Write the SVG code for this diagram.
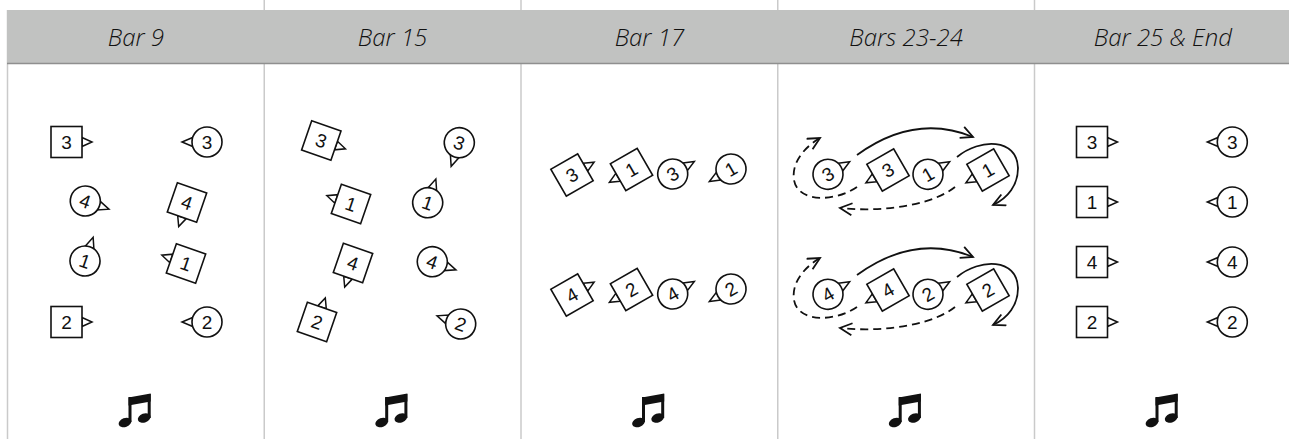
<svg xmlns="http://www.w3.org/2000/svg" xmlns:xlink="http://www.w3.org/1999/xlink" width="1289" height="439" viewBox="0 0 1289 439">
<style>
.hdr{font-family:"Open Sans","Noto Sans",sans-serif;font-style:italic;font-weight:350;font-size:24px;fill:#111;text-anchor:middle}
.num{font-family:"Liberation Sans",Arial,sans-serif;font-size:19px;fill:#111;text-anchor:middle}
.sh{fill:#fff;stroke:#111;stroke-width:1.6}
.tri{fill:#fff;stroke:#111;stroke-width:1.5;stroke-linejoin:miter}
.div{stroke:#cacaca;stroke-width:1.5}
.arr{fill:none;stroke:#111;stroke-width:1.8;marker-end:url(#ah)}
.dash{stroke-dasharray:8 5}
.note{fill:#111}
</style>
<defs>
<marker id="ah" markerUnits="userSpaceOnUse" markerWidth="16" markerHeight="14" refX="13" refY="7" orient="auto" viewBox="0 0 16 14">
<path d="M1,1 L13,7 L1,13" fill="none" stroke="#111" stroke-width="1.8"/>
</marker>
<polygon id="tS" points="15.5,-4.5 25.5,0 15.5,4.5"/>
<polygon id="tC" points="14.3,-4.5 25,0 14.3,4.5"/>
<rect id="bS" x="-15.5" y="-15.5" width="31" height="31"/>
<circle id="bC" r="15"/>
<g id="note">
<ellipse cx="-8.4" cy="12.5" rx="6.6" ry="4.4" transform="rotate(-20 -8.4 12.5)"/>
<rect x="-4.9" y="-13" width="3" height="25"/>
<polygon points="-4.9,-12.5 17.3,-16.5 17.3,-8.5 -4.9,-4.5"/>
<rect x="14.3" y="-16" width="3" height="24"/>
<ellipse cx="10.8" cy="8" rx="6.6" ry="4.4" transform="rotate(-20 10.8 8)"/>
</g>
</defs>
<rect x="0" y="0" width="1289" height="439" fill="#fff"/>

<g id="grid">
<line class="div" x1="7.5" y1="10" x2="7.5" y2="439"/>
<line class="div" x1="264.25" y1="0" x2="264.25" y2="439"/>
<line class="div" x1="521" y1="0" x2="521" y2="439"/>
<line class="div" x1="777.75" y1="0" x2="777.75" y2="439"/>
<line class="div" x1="1034.5" y1="0" x2="1034.5" y2="439"/>
<rect x="7" y="10" width="1282" height="53.5" fill="#c1c2c1"/>
<line x1="7" y1="63.5" x2="1289" y2="63.5" stroke="#8f8f8f" stroke-width="1.5"/>
<text class="hdr" x="135.9" y="45.5">Bar 9</text>
<text class="hdr" x="392.6" y="45.5">Bar 15</text>
<text class="hdr" x="649.4" y="45.5">Bar 17</text>
<text class="hdr" x="906.1" y="45.5">Bars 23-24</text>
<text class="hdr" x="1162.9" y="45.5">Bar 25 &amp; End</text>
</g>

<!-- Bar 9 -->
<g id="b9-sq3" transform="translate(66.5,142)"><use href="#tS" class="tri"/><use href="#bS" class="sh"/><text class="num" y="6.8">3</text></g>
<g id="b9-ci3" transform="translate(207,142)"><use href="#tC" class="tri" transform="rotate(180)"/><use href="#bC" class="sh"/><text class="num" y="6.8">3</text></g>
<g id="b9-ci4" transform="translate(85.3,201) rotate(19)"><use href="#tC" class="tri"/><use href="#bC" class="sh"/><text class="num" y="6.8">4</text></g>
<g id="b9-sq4" transform="translate(187,202.5) rotate(19)"><use href="#tS" class="tri" transform="rotate(90)"/><use href="#bS" class="sh"/><text class="num" y="6.8">4</text></g>
<g id="b9-ci1" transform="translate(85,261) rotate(19)"><use href="#tC" class="tri" transform="rotate(-90)"/><use href="#bC" class="sh"/><text class="num" y="6.8">1</text></g>
<g id="b9-sq1" transform="translate(186,263.5) rotate(19)"><use href="#tS" class="tri" transform="rotate(180)"/><use href="#bS" class="sh"/><text class="num" y="6.8">1</text></g>
<g id="b9-sq2" transform="translate(66.5,322)"><use href="#tS" class="tri"/><use href="#bS" class="sh"/><text class="num" y="6.8">2</text></g>
<g id="b9-ci2" transform="translate(207,322)"><use href="#tC" class="tri" transform="rotate(180)"/><use href="#bC" class="sh"/><text class="num" y="6.8">2</text></g>
<g id="b9-note" class="note"><use href="#note" transform="translate(133.4,410)"/></g>

<!-- Bar 15 -->
<g id="b15-sq3" transform="translate(321.3,140.5) rotate(19)"><use href="#tS" class="tri"/><use href="#bS" class="sh"/><text class="num" y="6.8">3</text></g>
<g id="b15-ci3" transform="translate(459.3,142.7) rotate(19)"><use href="#tC" class="tri" transform="rotate(90)"/><use href="#bC" class="sh"/><text class="num" y="6.8">3</text></g>
<g id="b15-sq1" transform="translate(351,204) rotate(19)"><use href="#tS" class="tri" transform="rotate(180)"/><use href="#bS" class="sh"/><text class="num" y="6.8">1</text></g>
<g id="b15-ci1" transform="translate(427.7,202.7) rotate(19)"><use href="#tC" class="tri" transform="rotate(-90)"/><use href="#bC" class="sh"/><text class="num" y="6.8">1</text></g>
<g id="b15-sq4" transform="translate(353,263) rotate(19)"><use href="#tS" class="tri" transform="rotate(90)"/><use href="#bS" class="sh"/><text class="num" y="6.8">4</text></g>
<g id="b15-ci4" transform="translate(432.3,261.7) rotate(19)"><use href="#tC" class="tri"/><use href="#bC" class="sh"/><text class="num" y="6.8">4</text></g>
<g id="b15-sq2" transform="translate(317,322) rotate(19)"><use href="#tS" class="tri" transform="rotate(-90)"/><use href="#bS" class="sh"/><text class="num" y="6.8">2</text></g>
<g id="b15-ci2" transform="translate(460.7,324) rotate(19)"><use href="#tC" class="tri" transform="rotate(180)"/><use href="#bC" class="sh"/><text class="num" y="6.8">2</text></g>
<g id="b15-note" class="note"><use href="#note" transform="translate(390.1,410)"/></g>

<!-- Bar 17 -->
<g id="b17-sq3" transform="translate(572,175) rotate(-30)"><use href="#tS" class="tri"/><use href="#bS" class="sh"/><text class="num" y="6.8">3</text></g>
<g id="b17-sq1" transform="translate(631.5,169.5) rotate(-30)"><use href="#tS" class="tri" transform="rotate(180)"/><use href="#bS" class="sh"/><text class="num" y="6.8">1</text></g>
<g id="b17-ci3" transform="translate(672.7,174) rotate(-30)"><use href="#tC" class="tri"/><use href="#bC" class="sh"/><text class="num" y="6.8">3</text></g>
<g id="b17-ci1" transform="translate(731,169) rotate(-30)"><use href="#tC" class="tri" transform="rotate(180)"/><use href="#bC" class="sh"/><text class="num" y="6.8">1</text></g>
<g id="b17-sq4" transform="translate(572,295) rotate(-30)"><use href="#tS" class="tri"/><use href="#bS" class="sh"/><text class="num" y="6.8">4</text></g>
<g id="b17-sq2" transform="translate(631.5,289.5) rotate(-30)"><use href="#tS" class="tri" transform="rotate(180)"/><use href="#bS" class="sh"/><text class="num" y="6.8">2</text></g>
<g id="b17-ci4" transform="translate(672.7,294) rotate(-30)"><use href="#tC" class="tri"/><use href="#bC" class="sh"/><text class="num" y="6.8">4</text></g>
<g id="b17-ci2" transform="translate(731,289) rotate(-30)"><use href="#tC" class="tri" transform="rotate(180)"/><use href="#bC" class="sh"/><text class="num" y="6.8">2</text></g>
<g id="b17-note" class="note"><use href="#note" transform="translate(646.9,410)"/></g>

<!-- Bars 23-24 -->
<g id="b23-ci3" transform="translate(828,174.3) rotate(-30)"><use href="#tC" class="tri"/><use href="#bC" class="sh"/><text class="num" y="6.8">3</text></g>
<g id="b23-sq3" transform="translate(888,170) rotate(-30)"><use href="#tS" class="tri" transform="rotate(180)"/><use href="#bS" class="sh"/><text class="num" y="6.8">3</text></g>
<g id="b23-ci1" transform="translate(928,174.3) rotate(-30)"><use href="#tC" class="tri"/><use href="#bC" class="sh"/><text class="num" y="6.8">1</text></g>
<g id="b23-sq1" transform="translate(988,170) rotate(-30)"><use href="#tS" class="tri" transform="rotate(180)"/><use href="#bS" class="sh"/><text class="num" y="6.8">1</text></g>
<g id="b23-ci4" transform="translate(828,294.3) rotate(-30)"><use href="#tC" class="tri"/><use href="#bC" class="sh"/><text class="num" y="6.8">4</text></g>
<g id="b23-sq4" transform="translate(888,290) rotate(-30)"><use href="#tS" class="tri" transform="rotate(180)"/><use href="#bS" class="sh"/><text class="num" y="6.8">4</text></g>
<g id="b23-ci2" transform="translate(928,294.3) rotate(-30)"><use href="#tC" class="tri"/><use href="#bC" class="sh"/><text class="num" y="6.8">2</text></g>
<g id="b23-sq2" transform="translate(988,290) rotate(-30)"><use href="#tS" class="tri" transform="rotate(180)"/><use href="#bS" class="sh"/><text class="num" y="6.8">2</text></g>
<g id="b23-note" class="note"><use href="#note" transform="translate(903.6,410)"/></g>

<!-- Bar 25 & End -->
<g id="b25-sq3" transform="translate(1092,142)"><use href="#tS" class="tri"/><use href="#bS" class="sh"/><text class="num" y="6.8">3</text></g>
<g id="b25-ci3" transform="translate(1232.3,142)"><use href="#tC" class="tri" transform="rotate(180)"/><use href="#bC" class="sh"/><text class="num" y="6.8">3</text></g>
<g id="b25-sq1" transform="translate(1092,202)"><use href="#tS" class="tri"/><use href="#bS" class="sh"/><text class="num" y="6.8">1</text></g>
<g id="b25-ci1" transform="translate(1232.3,202)"><use href="#tC" class="tri" transform="rotate(180)"/><use href="#bC" class="sh"/><text class="num" y="6.8">1</text></g>
<g id="b25-sq4" transform="translate(1092,262)"><use href="#tS" class="tri"/><use href="#bS" class="sh"/><text class="num" y="6.8">4</text></g>
<g id="b25-ci4" transform="translate(1232.3,262)"><use href="#tC" class="tri" transform="rotate(180)"/><use href="#bC" class="sh"/><text class="num" y="6.8">4</text></g>
<g id="b25-sq2" transform="translate(1092,322)"><use href="#tS" class="tri"/><use href="#bS" class="sh"/><text class="num" y="6.8">2</text></g>
<g id="b25-ci2" transform="translate(1232.3,322)"><use href="#tC" class="tri" transform="rotate(180)"/><use href="#bC" class="sh"/><text class="num" y="6.8">2</text></g>
<g id="b25-note" class="note"><use href="#note" transform="translate(1160.4,410)"/></g>

<g id="connectors">
<path class="arr" d="M857,155 Q915,113 973,137"/>
<path class="arr" d="M957,157 C980,138 1017,138 1018,168 C1018,185 1008,198 993,205"/>
<path class="arr dash" d="M955,187 C935,203 890,213 840,208"/>
<path class="arr dash" d="M857,187 C835,202 798,203 794,180 C791,162 806,146 820,138"/>
<path class="arr" d="M857,275 Q915,233 973,257"/>
<path class="arr" d="M957,277 C980,258 1017,258 1018,288 C1018,305 1008,318 993,325"/>
<path class="arr dash" d="M955,307 C935,323 890,333 840,328"/>
<path class="arr dash" d="M857,307 C835,322 798,323 794,300 C791,282 806,266 820,258"/>
</g>
</svg>
